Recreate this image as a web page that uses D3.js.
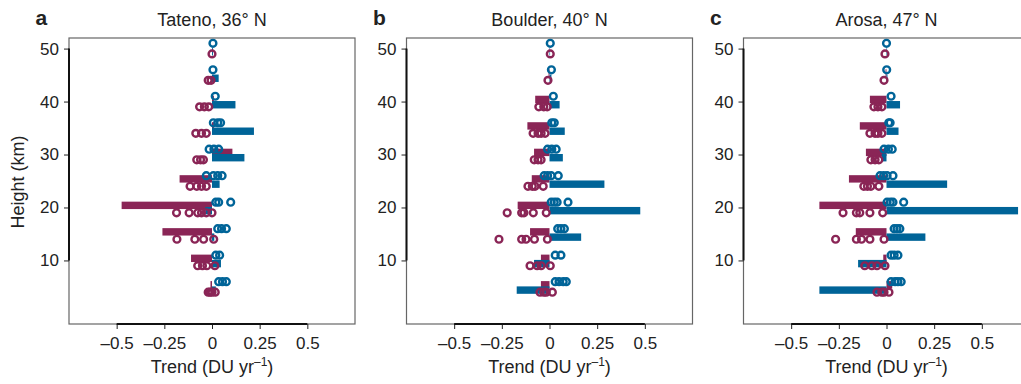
<!DOCTYPE html>
<html>
<head>
<meta charset="utf-8">
<script src="https://cdn.jsdelivr.net/npm/d3@7"></script>
<style>
  body { margin: 0; background: #fff; }
  svg { display: block; font-family: "Liberation Sans", Arial, sans-serif; }
  .tick text { font-size: 17px; fill: #222; }
</style>
</head>
<body>
<div id="chart"></div>
<script>
// layer centres (km); purple dots sit 1 km below, blue dots 1 km above
var levels = [5, 10, 15, 20, 25, 30, 35, 40, 45, 50];
var xTicks = [-0.5, -0.25, 0, 0.25, 0.5];
var yTicks = [10, 20, 30, 40, 50];
var letters = ["a", "b", "c"];
var titles = ["Tateno, 36\u00B0 N", "Boulder, 40\u00B0 N", "Arosa, 47\u00B0 N"];

// Tateno
var tatenoPurpleBar = [-0.008, -0.11, -0.26, -0.474, -0.17, 0.107, 0.01, 0.01, 0, 0];
var tatenoBlueBar = [0.02, 0.047, 0.012, -0.035, 0.04, 0.17, 0.22, 0.123, 0.035, 0.005];
var tatenoPurpleDots = [
  [-0.02, -0.01, 0.0, 0.017],
  [-0.075, -0.05, -0.027, 0.015],
  [-0.184, -0.09, -0.044, 0.009],
  [-0.186, -0.12, -0.075, -0.055, -0.03, 0.0],
  [-0.115, -0.08, -0.055, -0.03],
  [-0.08, -0.06, -0.045],
  [-0.085, -0.055, -0.03],
  [-0.065, -0.04, -0.017],
  [-0.02, -0.005],
  [0.0]
];
var tatenoBlueDots = [
  [0.035, 0.055, 0.075],
  [0.02, 0.04],
  [0.03, 0.05, 0.075],
  [0.02, 0.035, 0.098],
  [-0.03, 0.007, 0.03, 0.053],
  [-0.015, 0.01, 0.035],
  [0.007, 0.03, 0.045],
  [0.017],
  [0.005],
  [0.005]
];

// Boulder
var boulderPurpleBar = [-0.045, -0.045, -0.102, -0.167, -0.093, -0.081, -0.116, -0.075, -0.005, 0];
var boulderBlueBar = [-0.172, -0.081, 0.166, 0.476, 0.288, 0.07, 0.08, 0.053, 0.01, 0.003];
var boulderPurpleDots = [
  [-0.05, -0.03, -0.017, 0.015],
  [-0.102, -0.065, -0.044, 0.004],
  [-0.265, -0.146, -0.123, -0.079, -0.011],
  [-0.222, -0.146, -0.134, -0.085, -0.017],
  [-0.113, -0.09, -0.076, -0.033],
  [-0.08, -0.06, -0.044],
  [-0.086, -0.06, -0.044, -0.023],
  [-0.056, -0.03, -0.012],
  [-0.008],
  [0.004]
];
var boulderBlueDots = [
  [0.03, 0.05, 0.072, 0.088],
  [0.03, 0.06],
  [0.043, 0.06, 0.078],
  [0.009, 0.025, 0.04, 0.097],
  [-0.028, -0.01, 0.009, 0.046],
  [-0.01, 0.012, 0.035],
  [0.012, 0.025],
  [0.02],
  [0.01],
  [0.004]
];

// Arosa
var arosaPurpleBar = [0.03, -0.017, -0.161, -0.352, -0.197, -0.108, -0.14, -0.087, -0.005, 0];
var arosaBlueBar = [-0.352, -0.149, 0.204, 0.69, 0.318, -0.025, 0.063, 0.071, 0.005, 0.003];
var arosaPurpleDots = [
  [-0.05, -0.025, -0.013, 0.013],
  [-0.114, -0.077, -0.05, -0.008],
  [-0.267, -0.158, -0.131, -0.087, -0.013],
  [-0.228, -0.158, -0.14, -0.087, -0.02],
  [-0.119, -0.1, -0.082, -0.04],
  [-0.082, -0.06, -0.04],
  [-0.087, -0.06, -0.045, -0.024],
  [-0.066, -0.045, -0.024],
  [-0.013],
  [-0.008]
];
var arosaBlueDots = [
  [0.024, 0.045, 0.06, 0.077],
  [0.024, 0.04, 0.06],
  [0.04, 0.055, 0.07],
  [0.003, 0.02, 0.034, 0.09],
  [-0.034, -0.015, 0.003, 0.034],
  [-0.013, 0.01, 0.03],
  [0.012, 0.019],
  [0.024],
  [0.001],
  [0]
];

var purpleBars = [tatenoPurpleBar, boulderPurpleBar, arosaPurpleBar];
var blueBars = [tatenoBlueBar, boulderBlueBar, arosaBlueBar];
var purpleDots = [tatenoPurpleDots, boulderPurpleDots, arosaPurpleDots];
var blueDots = [tatenoBlueDots, boulderBlueDots, arosaBlueDots];

var purple = "#8a2556",
    blue = "#006498";

var width = 1021,
    height = 384,
    boxW = 286,
    boxTop = 38,
    boxBottom = 324,
    panelLeft = [69, 406.5, 743.5];

var svg = d3.select("#chart").append("svg")
  .attr("width", width)
  .attr("height", height);

var x = d3.scaleLinear().domain([-0.75, 0.75]).range([0, boxW]);
var y = d3.scaleLinear().domain([-2, 52]).range([boxBottom, boxTop]);

var fmt = d => d < 0 ? "\u2013" + Math.abs(d) : String(d);

panelLeft.forEach(function(left, p) {
  var g = svg.append("g").attr("transform", `translate(${left},0)`);

  // frame
  g.append("rect")
    .attr("x", 0).attr("y", boxTop)
    .attr("width", boxW).attr("height", boxBottom - boxTop)
    .attr("fill", "none").attr("stroke", "#666").attr("stroke-width", 1.2);

  // bars: purple first, blue on top
  g.selectAll(".pbar").data(levels).enter().append("rect")
    .attr("x", (d, i) => x(Math.min(0, purpleBars[p][i])))
    .attr("width", (d, i) => Math.abs(x(purpleBars[p][i]) - x(0)))
    .attr("y", d => y(d + 1.1))
    .attr("height", d => y(d - 0.3) - y(d + 1.1))
    .attr("fill", purple);

  g.selectAll(".bbar").data(levels).enter().append("rect")
    .attr("x", (d, i) => x(Math.min(0, blueBars[p][i])))
    .attr("width", (d, i) => Math.abs(x(blueBars[p][i]) - x(0)))
    .attr("y", d => y(d + 0.1))
    .attr("height", d => y(d - 1.3) - y(d + 0.1))
    .attr("fill", blue);

  // dots
  var pd = [], bd = [];
  levels.forEach(function(lv, i) {
    purpleDots[p][i].forEach(v => pd.push({h: lv - 1, v: v}));
    blueDots[p][i].forEach(v => bd.push({h: lv + 1, v: v}));
  });
  g.selectAll(".pdot").data(pd).enter().append("circle")
    .attr("cx", d => x(d.v)).attr("cy", d => y(d.h)).attr("r", 3.4)
    .attr("fill", "none").attr("stroke", purple).attr("stroke-width", 2.4);
  g.selectAll(".bdot").data(bd).enter().append("circle")
    .attr("cx", d => x(d.v)).attr("cy", d => y(d.h)).attr("r", 3.4)
    .attr("fill", "none").attr("stroke", blue).attr("stroke-width", 2.4);

  // axes
  var xAxis = g.append("g")
    .attr("transform", `translate(0,${boxBottom})`)
    .call(d3.axisBottom(x).tickValues(xTicks).tickFormat(fmt).tickSize(5).tickPadding(8));
  xAxis.select(".domain").remove();
  xAxis.append("line")
    .attr("x1", x(-0.5)).attr("x2", x(0.5))
    .attr("stroke", "#111").attr("stroke-width", 2);

  var yAxis = g.append("g")
    .call(d3.axisLeft(y).tickValues(yTicks).tickSize(5).tickPadding(5));
  yAxis.select(".domain").remove();
  yAxis.append("line")
    .attr("y1", y(10)).attr("y2", y(50))
    .attr("stroke", "#111").attr("stroke-width", 2);

  g.selectAll(".tick line").attr("stroke", "#222");

  // labels
  g.append("text")
    .attr("x", -33.5).attr("y", 25)
    .attr("font-size", 21).attr("font-weight", "bold").attr("fill", "#222")
    .text(letters[p]);

  g.append("text")
    .attr("x", x(0)).attr("y", 26)
    .attr("text-anchor", "middle").attr("font-size", 18).attr("fill", "#222")
    .text(titles[p]);

  var xl = g.append("text")
    .attr("x", x(0)).attr("y", 373)
    .attr("text-anchor", "middle").attr("font-size", 18).attr("fill", "#222");
  xl.append("tspan").text("Trend (DU yr");
  xl.append("tspan").attr("font-size", 12).attr("dy", -7).text("\u20131");
  xl.append("tspan").attr("dy", 7).text(")");
});

svg.append("text")
  .attr("transform", `translate(24,${(boxTop + boxBottom) / 2 + 1}) rotate(-90)`)
  .attr("text-anchor", "middle").attr("font-size", 18).attr("fill", "#222")
  .text("Height (km)");
</script>
</body>
</html>
